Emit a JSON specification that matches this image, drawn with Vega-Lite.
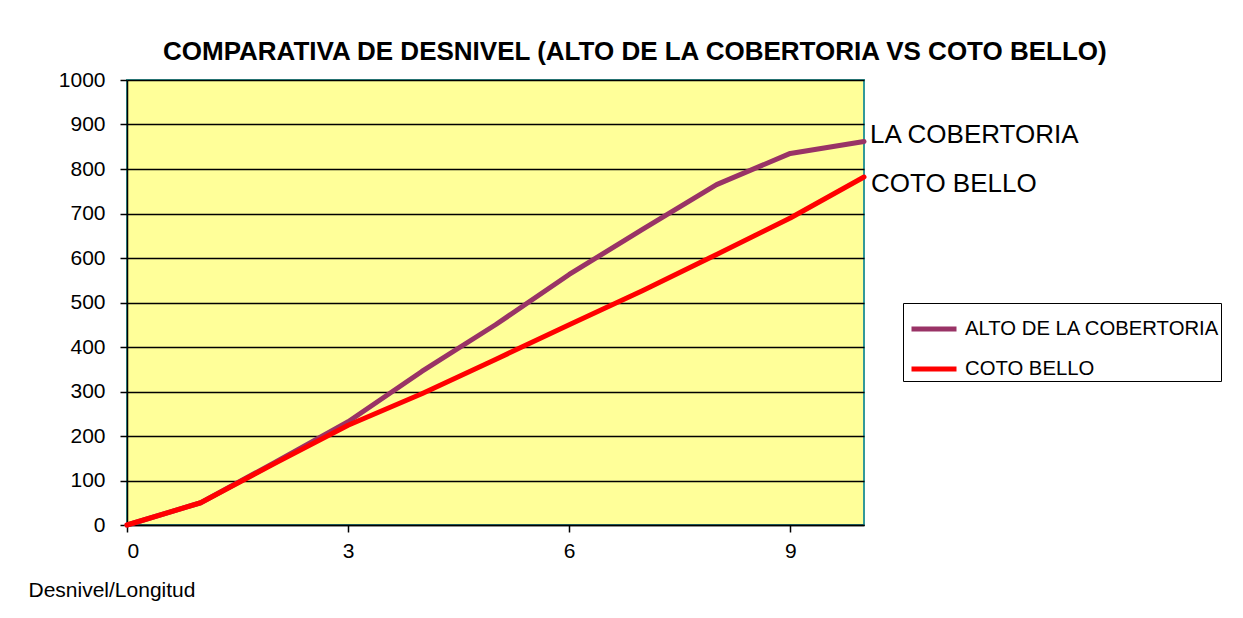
{
  "$schema": "https://vega.github.io/schema/vega-lite/v6.json",
  "width": 737,
  "height": 445,
  "autosize": {"type": "none"},
  "padding": {"left": 127, "top": 80, "right": 379, "bottom": 93},
  "background": "white",
  "title": {
    "text": "COMPARATIVA DE DESNIVEL (ALTO DE LA COBERTORIA VS COTO BELLO)",
    "font": "Liberation Sans",
    "fontSize": 26,
    "fontWeight": "bold",
    "color": "black",
    "anchor": "start",
    "frame": "group",
    "dx": 36,
    "offset": 4
  },
  "data": {
    "values": [
      {"km": 0, "serie": "ALTO DE LA COBERTORIA", "alt": 0},
      {"km": 1, "serie": "ALTO DE LA COBERTORIA", "alt": 50},
      {"km": 2, "serie": "ALTO DE LA COBERTORIA", "alt": 140},
      {"km": 3, "serie": "ALTO DE LA COBERTORIA", "alt": 232},
      {"km": 4, "serie": "ALTO DE LA COBERTORIA", "alt": 345},
      {"km": 5, "serie": "ALTO DE LA COBERTORIA", "alt": 450},
      {"km": 6, "serie": "ALTO DE LA COBERTORIA", "alt": 563},
      {"km": 7, "serie": "ALTO DE LA COBERTORIA", "alt": 665},
      {"km": 8, "serie": "ALTO DE LA COBERTORIA", "alt": 765},
      {"km": 9, "serie": "ALTO DE LA COBERTORIA", "alt": 835},
      {"km": 10, "serie": "ALTO DE LA COBERTORIA", "alt": 862},
      {"km": 0, "serie": "COTO BELLO", "alt": 0},
      {"km": 1, "serie": "COTO BELLO", "alt": 50},
      {"km": 2, "serie": "COTO BELLO", "alt": 138},
      {"km": 3, "serie": "COTO BELLO", "alt": 224},
      {"km": 4, "serie": "COTO BELLO", "alt": 295},
      {"km": 5, "serie": "COTO BELLO", "alt": 372},
      {"km": 6, "serie": "COTO BELLO", "alt": 450},
      {"km": 7, "serie": "COTO BELLO", "alt": 527},
      {"km": 8, "serie": "COTO BELLO", "alt": 608},
      {"km": 9, "serie": "COTO BELLO", "alt": 690},
      {"km": 10, "serie": "COTO BELLO", "alt": 782}
    ]
  },
  "layer": [
    {
      "mark": {"type": "line", "strokeWidth": 5, "strokeCap": "round", "strokeJoin": "round"},
      "encoding": {
        "x": {
          "field": "km", "type": "quantitative",
          "scale": {"domain": [0, 10], "nice": false, "zero": true},
          "axis": {
            "values": [0, 3, 6, 9],
            "format": "d",
            "grid": false,
            "title": "Desnivel/Longitud",
            "titleFont": "Liberation Sans",
            "titleFontSize": 21,
            "titleFontWeight": "normal",
            "titleColor": "black",
            "titleAnchor": "start",
            "titleAlign": "left",
            "titleBaseline": "middle",
            "titleX": -99,
            "titleY": 65,
            "labelFont": "Liberation Sans",
            "labelFontSize": 21,
            "labelColor": "black",
            "labelPadding": 8,
            "tickSize": 7,
            "tickColor": "black",
            "tickWidth": 1.5,
            "domainColor": "black",
            "domainWidth": 1.5
          }
        },
        "y": {
          "field": "alt", "type": "quantitative",
          "scale": {"domain": [0, 1000], "nice": false},
          "axis": {
            "values": [0, 100, 200, 300, 400, 500, 600, 700, 800, 900, 1000],
            "format": "d",
            "title": null,
            "grid": true,
            "gridColor": "black",
            "gridWidth": 1.5,
            "gridOpacity": 1,
            "labelFont": "Liberation Sans",
            "labelFontSize": 21,
            "labelColor": "black",
            "labelPadding": 15,
            "tickSize": 7,
            "tickColor": "black",
            "tickWidth": 1.5,
            "domainColor": "black",
            "domainWidth": 1.5
          }
        },
        "color": {
          "field": "serie", "type": "nominal",
          "scale": {"domain": ["ALTO DE LA COBERTORIA", "COTO BELLO"], "range": ["#993366", "#FF0000"]},
          "legend": {
            "title": null,
            "orient": "none",
            "legendX": 776,
            "legendY": 223,
            "strokeColor": "black",
            "padding": 1,
            "symbolType": "stroke",
            "symbolSize": 2025,
            "symbolStrokeWidth": 5,
            "symbolOffset": 5,
            "labelFont": "Liberation Sans",
            "labelFontSize": 20.3,
            "labelColor": "black",
            "labelOffset": 6,
            "labelLimit": 400,
            "rowPadding": 4
          }
        }
      }
    },
    {
      "transform": [{"filter": "datum.km == 10 && datum.serie == 'ALTO DE LA COBERTORIA'"}],
      "mark": {"type": "text", "align": "left", "baseline": "middle", "dx": 6, "dy": -6, "font": "Liberation Sans", "fontSize": 26, "color": "black"},
      "encoding": {
        "x": {"field": "km", "type": "quantitative"},
        "y": {"field": "alt", "type": "quantitative"},
        "text": {"value": "LA COBERTORIA"}
      }
    },
    {
      "transform": [{"filter": "datum.km == 10 && datum.serie == 'COTO BELLO'"}],
      "mark": {"type": "text", "align": "left", "baseline": "middle", "dx": 7, "dy": 7, "font": "Liberation Sans", "fontSize": 26, "color": "black"},
      "encoding": {
        "x": {"field": "km", "type": "quantitative"},
        "y": {"field": "alt", "type": "quantitative"},
        "text": {"value": "COTO BELLO"}
      }
    }
  ],
  "config": {
    "view": {"fill": "#FFFF99", "stroke": "#339999", "strokeWidth": 2}
  }
}
